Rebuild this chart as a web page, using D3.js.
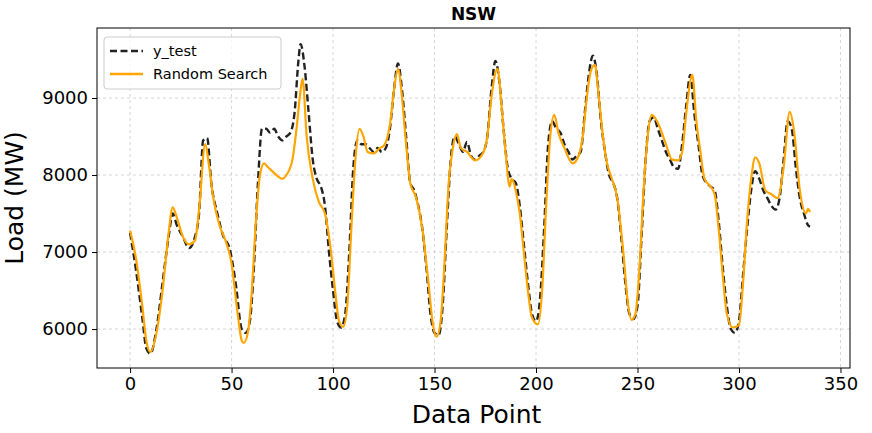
<!DOCTYPE html>
<html><head><meta charset="utf-8">
<script src="https://cdn.jsdelivr.net/npm/d3@7"></script>
<style>body{margin:0;background:#fff;font-family:"DejaVu Sans",sans-serif;}</style>
</head><body><div id="vis"></div>
<script>
const margin = { top: 28, right: 22, bottom: 65, left: 97 };
const width = 872 - margin.left - margin.right;
const height = 433 - margin.top - margin.bottom;

// [data point, load MW]
const yTest = [[0,7250],[3,6750],[6,6150],[8,5750],[10,5680],[13,6000],[16,6600],[19,7200],[21,7500],[23,7350],[26,7200],[29,7050],[32,7200],[34,7500],[36,8450],[38,8480],[40,7900],[43,7500],[46,7200],[49,7050],[52,6600],[55,6000],[57,5950],[59,6100],[61,6800],[63,7900],[65,8600],[67,8600],[69,8550],[71,8600],[73,8500],[75,8450],[77,8500],[79,8550],[81,8800],[83,9500],[84,9700],[86,9400],[88,8800],[90,8200],[92,7950],[94,7850],[96,7600],[98,7000],[100,6500],[102,6100],[104,6020],[106,6200],[108,7000],[110,8100],[112,8450],[114,8400],[116,8400],[118,8350],[120,8300],[122,8350],[124,8300],[126,8350],[128,8600],[130,9100],[132,9450],[134,9100],[136,8500],[138,7900],[140,7800],[142,7600],[144,7300],[146,6800],[148,6200],[150,5950],[152,5920],[154,6300],[156,7300],[158,8200],[160,8500],[162,8400],[164,8300],[166,8430],[168,8250],[170,8200],[172,8250],[174,8300],[176,8500],[178,9100],[180,9480],[182,9200],[184,8600],[186,8100],[188,7950],[190,7900],[192,7600],[194,7100],[196,6600],[198,6200],[200,6100],[202,6400],[204,7300],[206,8400],[208,8700],[210,8600],[212,8550],[214,8400],[216,8300],[218,8200],[220,8250],[222,8300],[224,8800],[226,9300],[228,9550],[230,9300],[232,8700],[234,8300],[236,8000],[238,7900],[240,7700],[242,7200],[244,6600],[246,6200],[248,6130],[250,6300],[252,7200],[254,8200],[256,8700],[258,8750],[260,8600],[262,8450],[264,8300],[266,8200],[268,8100],[270,8080],[272,8400],[274,8900],[276,9300],[278,8800],[280,8400],[282,8000],[284,7900],[286,7850],[288,7800],[290,7400],[292,6800],[294,6300],[296,6000],[298,5950],[300,6100],[302,6700],[304,7300],[306,7800],[308,8050],[310,7950],[312,7800],[314,7700],[316,7600],[318,7550],[320,7700],[322,8200],[324,8700],[326,8600],[328,8100],[330,7700],[332,7500],[334,7350],[335,7330]];

const randomSearch = [[0,7280],[3,6900],[6,6300],[8,5850],[10,5700],[13,5950],[16,6500],[19,7250],[21,7580],[23,7450],[26,7200],[29,7100],[32,7150],[34,7550],[37,8400],[39,8100],[41,7700],[44,7350],[47,7150],[50,6850],[53,6200],[55,5850],[56,5820],[58,5950],[60,6500],[62,7400],[64,8000],[66,8150],[68,8100],[70,8050],[73,7980],[75,7950],[77,8000],[80,8200],[82,8600],[84,9100],[85,9250],[87,8500],[90,7950],[93,7650],[96,7500],[99,7000],[101,6500],[103,6100],[105,6030],[107,6300],[109,7300],[111,8200],[113,8600],[115,8500],[117,8300],[120,8280],[123,8350],[125,8380],[128,8650],[130,9100],[132,9380],[134,9000],[136,8400],[138,7900],[141,7700],[144,7300],[147,6600],[149,6100],[151,5900],[153,6100],[155,6900],[157,7900],[159,8350],[161,8530],[163,8350],[166,8300],[170,8190],[174,8290],[176,8500],[178,9000],[181,9380],[183,8900],[185,8300],[187,7850],[188,7950],[190,7800],[192,7500],[194,7000],[196,6500],[198,6150],[201,6060],[203,6500],[205,7600],[207,8500],[209,8780],[211,8550],[214,8350],[218,8150],[221,8250],[223,8500],[225,9000],[227,9350],[229,9430],[231,9000],[233,8500],[235,8150],[237,7980],[240,7700],[243,7000],[245,6400],[247,6120],[249,6200],[251,6800],[253,7800],[255,8500],[257,8780],[260,8680],[264,8400],[267,8200],[270,8190],[272,8300],[274,8800],[277,9300],[279,8700],[281,8300],[283,7950],[286,7850],[288,7750],[290,7300],[292,6700],[294,6200],[297,6020],[300,6050],[302,6600],[304,7400],[306,7950],[308,8230],[310,8150],[313,7800],[316,7750],[319,7700],[322,8100],[325,8820],[327,8600],[330,7800],[333,7500],[334,7560],[335,7520]];

const xTicks = [0, 50, 100, 150, 200, 250, 300, 350];
const yTicks = [6000, 7000, 8000, 9000];

const svg = d3.select("#vis").append("svg")
    .attr("width", 872).attr("height", 433)
  .append("g")
    .attr("transform", `translate(${margin.left},${margin.top})`);

const x = d3.scaleLinear().domain([-16.3, 354.7]).range([0, width]);
const y = d3.scaleLinear().domain([5494, 9909]).range([height, 0]);

// grid
svg.append("g").selectAll("line").data(xTicks).join("line")
    .attr("x1", d => x(d)).attr("x2", d => x(d)).attr("y1", 0).attr("y2", height)
    .attr("stroke", "#ccc").attr("stroke-dasharray", "3,3").attr("stroke-width", 0.8);
svg.append("g").selectAll("line").data(yTicks).join("line")
    .attr("y1", d => y(d)).attr("y2", d => y(d)).attr("x1", 0).attr("x2", width)
    .attr("stroke", "#ccc").attr("stroke-dasharray", "3,3").attr("stroke-width", 0.8);

const line = d3.line().x(d => x(d[0])).y(d => y(d[1])).curve(d3.curveMonotoneX);

svg.append("path").datum(yTest).attr("d", line)
    .attr("fill", "none").attr("stroke", "#222").attr("stroke-width", 2.4)
    .attr("stroke-dasharray", "7,3.5");
svg.append("path").datum(randomSearch).attr("d", line)
    .attr("fill", "none").attr("stroke", "#FFA500").attr("stroke-width", 2.2);

// axes
const xAxis = svg.append("g").attr("transform", `translate(0,${height})`)
    .call(d3.axisBottom(x).tickValues(xTicks).tickSize(5).tickPadding(4));
const yAxis = svg.append("g")
    .call(d3.axisLeft(y).tickValues(yTicks).tickSize(5).tickPadding(4).tickFormat(d3.format("d")));
[xAxis, yAxis].forEach(a => {
  a.selectAll("text").style("font-size", "18px").style("font-family", "DejaVu Sans").attr("fill", "#000");
  a.select(".domain").remove();
  a.selectAll("line").attr("stroke", "#000");
});
svg.append("rect").attr("width", width).attr("height", height)
    .attr("fill", "none").attr("stroke", "#000").attr("stroke-width", 1);

svg.append("text").attr("x", width / 2).attr("y", -8).attr("text-anchor", "middle")
    .style("font-size", "17px").style("font-weight", "bold").text("NSW");
svg.append("text").attr("x", width / 2 + 3).attr("y", height + 55).attr("text-anchor", "middle")
    .style("font-size", "25px").text("Data Point");
svg.append("text").attr("transform", `translate(-74,${height / 2}) rotate(-90)`)
    .attr("text-anchor", "middle").style("font-size", "25px").text("Load (MW)");

// legend
const lg = svg.append("g").attr("transform", "translate(7,9)");
lg.append("rect").attr("width", 177).attr("height", 52).attr("rx", 3)
    .attr("fill", "#fff").attr("fill-opacity", 0.8).attr("stroke", "#ccc");
const items = [["y_test", "#222", "7,3.5"], ["Random Search", "#FFA500", null]];
items.forEach((it, i) => {
  const g = lg.append("g").attr("transform", `translate(6,${14 + i * 23})`);
  g.append("line").attr("x1", 0).attr("x2", 33).attr("stroke", it[1]).attr("stroke-width", 2.4)
      .attr("stroke-dasharray", it[2]);
  g.append("text").attr("x", 43).attr("y", 5).style("font-size", "14.5px").text(it[0]);
});
</script></body></html>
